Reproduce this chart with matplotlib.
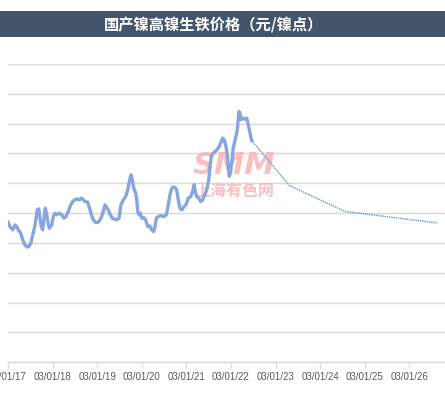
import matplotlib
matplotlib.use("Agg")
import matplotlib.pyplot as plt
from matplotlib.patches import Rectangle

plt.rcParams['font.family'] = ['Noto Sans CJK SC', 'DejaVu Sans']

title = "国产镍高镍生铁价格（元/镍点）"

# actual price series (x in fractional years, value in 元/镍点)
actual_year = [2017.00, 2017.045, 2017.105, 2017.135, 2017.157, 2017.195, 2017.231, 2017.285, 2017.33, 2017.38,
               2017.43, 2017.478, 2017.516, 2017.554, 2017.60, 2017.628, 2017.657, 2017.688, 2017.717, 2017.747,
               2017.778, 2017.807, 2017.836, 2017.868, 2017.897, 2017.926, 2017.98, 2018.016, 2018.054, 2018.092,
               2018.15, 2018.204, 2018.256, 2018.30, 2018.352, 2018.406, 2018.464, 2018.54, 2018.599, 2018.652,
               2018.726, 2018.787, 2018.816, 2018.861, 2018.912, 2018.966, 2019.025, 2019.085, 2019.137, 2019.175,
               2019.213, 2019.249, 2019.294, 2019.338, 2019.383, 2019.437, 2019.489, 2019.533, 2019.585, 2019.639,
               2019.684, 2019.72, 2019.758, 2019.787, 2019.818, 2019.863, 2019.892, 2019.908, 2019.937, 2019.966,
               2019.998, 2020.043, 2020.087, 2020.132, 2020.177, 2020.222, 2020.267, 2020.296, 2020.325, 2020.37,
               2020.43, 2020.49, 2020.549, 2020.594, 2020.639, 2020.684, 2020.737, 2020.782, 2020.818, 2020.856,
               2020.901, 2020.946, 2020.99, 2021.042, 2021.096, 2021.141, 2021.17, 2021.20, 2021.231, 2021.276,
               2021.321, 2021.365, 2021.41, 2021.455, 2021.50, 2021.529, 2021.558, 2021.603, 2021.648, 2021.693,
               2021.737, 2021.782, 2021.814, 2021.849, 2021.888, 2021.917, 2021.939, 2021.962, 2021.993, 2022.022,
               2022.051, 2022.083, 2022.112, 2022.141, 2022.163, 2022.179, 2022.201, 2022.224, 2022.262, 2022.307,
               2022.352, 2022.388, 2022.426, 2022.464]
actual_price = [940, 910, 888, 903, 921, 910, 888, 866, 821, 787,
                772, 780, 805, 854, 910, 966, 1022, 1029, 966, 910,
                888, 966, 1033, 989, 933, 899, 921, 977, 1000, 989,
                1000, 989, 966, 977, 1011, 1056, 1082, 1096, 1089, 1101,
                1078, 1074, 1044, 1000, 955, 937, 940, 966, 1011, 1056,
                1038, 1022, 989, 966, 960, 955, 966, 1056, 1089, 1111,
                1156, 1212, 1257, 1223, 1168, 1134, 1078, 1011, 989, 1000,
                966, 970, 955, 910, 915, 888, 876, 910, 966, 977,
                984, 977, 989, 1056, 1134, 1172, 1174, 1156, 1089, 1033,
                1022, 1044, 1056, 1101, 1111, 1145, 1190, 1145, 1111, 1101,
                1078, 1089, 1123, 1156, 1223, 1313, 1380, 1403, 1413, 1429,
                1447, 1480, 1503, 1492, 1447, 1391, 1313, 1246, 1279, 1358,
                1436, 1480, 1514, 1559, 1626, 1682, 1671, 1626, 1637, 1631,
                1637, 1593, 1537, 1487]

# forecast series
forecast_year = [2022.464, 2023.31, 2024.56, 2026.61]
forecast_price = [1487, 1185, 1011, 935]

tick_years = [2017, 2018, 2019, 2020, 2021, 2022, 2023, 2024, 2025, 2026]
tick_labels = ["03/01/17", "03/01/18", "03/01/19", "03/01/20", "03/01/21",
               "03/01/22", "03/01/23", "03/01/24", "03/01/25", "03/01/26"]
y_ticks = [0, 200, 400, 600, 800, 1000, 1200, 1400, 1600, 1800, 2000]

W, H = 445, 400
fig = plt.figure(figsize=(W / 100, H / 100), dpi=100)
fig.patch.set_facecolor("white")

# title bar
fig.patches.append(Rectangle((0, 1 - 37 / H), 1, 26 / H, transform=fig.transFigure,
                             facecolor="#44546A", edgecolor="none", zorder=0))
fig.text(214 / W, 1 - 24 / H, title, color="white", fontsize=11, fontweight="bold",
         ha="center", va="center")

left = 8 / W
bottom = (H - 362.3) / H
top = (H - 64) / H
width = 446 / W
ax = fig.add_axes([left, bottom, width, top - bottom])
ax.set_xlim(2017, 2027)
ax.set_ylim(0, 2000)

for s in ["top", "right", "left"]:
    ax.spines[s].set_visible(False)
ax.spines["bottom"].set_color("#D9D9D9")
ax.spines["bottom"].set_linewidth(1)

ax.set_yticks(y_ticks)
ax.tick_params(axis="y", left=False, labelleft=False)
ax.yaxis.grid(True, color="#D9D9D9", linewidth=1)
ax.set_axisbelow(True)

ax.set_xticks(tick_years)
ax.set_xticklabels(tick_labels, fontsize=7, color="#595959", family=["Liberation Sans", "DejaVu Sans"])
ax.tick_params(axis="x", direction="out", length=4, color="#D9D9D9", pad=3)

# watermark
ax.text(2022.07, 1317, "SMM", fontsize=22, fontweight="bold", style="italic",
        color="#F9B0B0", alpha=0.8, ha="center", va="center", zorder=1,
        family=["DejaVu Sans"])
ax.text(2022.07, 1150, "上海有色网", fontsize=11.5, fontweight="bold",
        color="#F9B0B0", alpha=0.8, ha="center", va="center", zorder=1)

ax.plot(actual_year, actual_price, color="#86A6DD", linewidth=2.4, zorder=3,
        solid_joinstyle="round")
ax.plot(forecast_year, forecast_price, color="#5B9BD5", linewidth=1.0,
        linestyle=(0, (1, 0.6)), zorder=3)

fig.savefig("out.png", dpi=100)
